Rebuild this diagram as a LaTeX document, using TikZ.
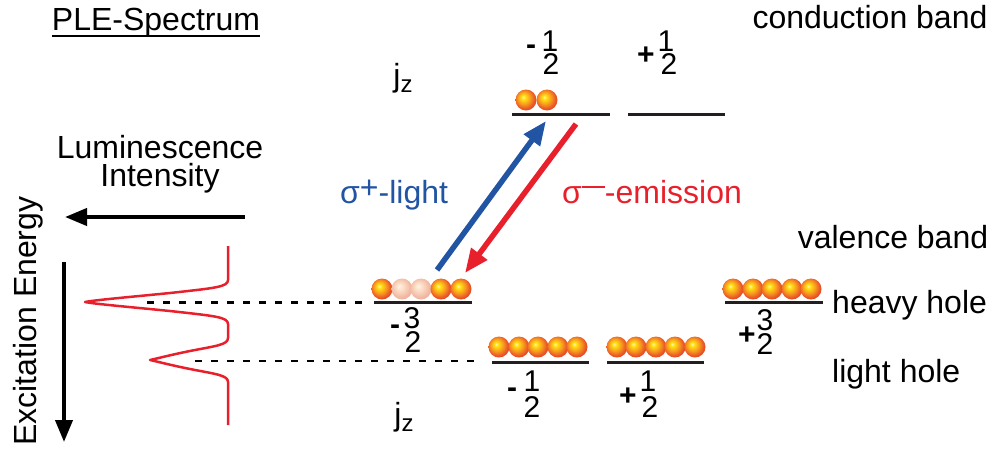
\documentclass[tikz,border=0pt]{standalone}
\usepackage{fontspec}
\setmainfont{Liberation Sans}
\usetikzlibrary{arrows.meta}
\definecolor{levelgray}{RGB}{35,31,32}
\definecolor{lblue}{RGB}{34,84,164}
\definecolor{lred}{RGB}{232,32,44}
\definecolor{peachA}{RGB}{255,244,228}
\definecolor{peachB}{RGB}{250,214,190}
\definecolor{peachC}{RGB}{240,180,160}
\definecolor{orbY}{RGB}{255,225,20}
\definecolor{orbO}{RGB}{248,155,30}
\definecolor{orbR}{RGB}{232,80,40}
\pgfdeclareradialshading{orb}{\pgfpoint{-7bp}{7bp}}{color(0bp)=(orbY!40!white); color(5bp)=(orbY); color(15bp)=(orbO); color(25bp)=(orbR); color(31bp)=(orbR); color(50bp)=(orbR)}
\pgfdeclareradialshading{paleorb}{\pgfpoint{-7bp}{7bp}}{color(0bp)=(peachA); color(12bp)=(peachB); color(25bp)=(peachC); color(31bp)=(peachC); color(50bp)=(peachC)}
\tikzset{
  lab/.style={font=\fontsize{32}{38}\selectfont, inner sep=0pt},
  dig/.style={font=\fontsize{30}{36}\selectfont, inner sep=0pt, text height=21.5pt, text depth=0pt},
  sgn/.style={font=\fontsize{30}{36}\selectfont\bfseries, inner sep=0pt},
  level/.style={draw=levelgray, line width=3pt},
  ball/.style={circle, minimum size=21pt, inner sep=0pt, shading=orb},
  paleball/.style={circle, minimum size=21pt, inner sep=0pt, shading=paleorb},
  guide/.style={draw=black, line width=2.5pt, dash pattern=on 7pt off 9pt},
  bigarrow/.style={line width=4pt, -{Triangle[length=22pt, width=17pt]}},
  trans/.style={line width=5.5pt, -{Triangle[length=24pt, width=19pt]}},
}
\begin{document}
\begin{tikzpicture}[x=1pt, y=-1pt]
\useasboundingbox (0,0) rectangle (994,451);

% titles
\node[lab, anchor=base] (ple) at (156,30) {PLE-Spectrum};
\draw[line width=2pt] ([yshift=-6pt]ple.base west) -- ([yshift=-6pt]ple.base east);
\node[lab, anchor=base] (cb) at (870,28) {conduction band};
\node[lab, anchor=base] (vb) at (893,248) {valence band};
\node[lab, anchor=base west] (hh) at (832,313) {heavy hole};
\node[lab, anchor=base west] (lh) at (832,382) {light hole};

% jz labels
\node[lab, anchor=base] (jz1) at (403,86) {j\raisebox{-6pt}{\fontsize{24}{24}\selectfont z}};
\node[lab, anchor=base] (jz2) at (404,425) {j\raisebox{-6pt}{\fontsize{24}{24}\selectfont z}};

% conduction band levels
\draw[level] (512,114) -- (610,114);
\draw[level] (628,114) -- (725,114);
\node[ball] (ce1) at (526,100) {};
\node[ball] (ce2) at (547,100) {};

% conduction band jz values
\node[sgn] (cms) at (531,50) {-};
\node[dig] (cmn) at (550,41) {1};
\node[dig] (cmd) at (551,64) {2};
\node[sgn] (cps) at (646,56) {+};
\node[dig] (cpn) at (666,41) {1};
\node[dig] (cpd) at (669,64) {2};

% heavy hole left (-3/2)
\draw[level] (374,302) -- (472,302);
\node[ball] (hl1) at (382,289) {};
\node[paleball] (hl2) at (402,289) {};
\node[paleball] (hl3) at (421,289) {};
\node[ball] (hl4) at (441,289) {};
\node[ball] (hl5) at (461,289) {};
\node[sgn] (hls) at (395,330) {-};
\node[dig] (hln) at (412,318) {3};
\node[dig] (hld) at (413,342) {2};

% heavy hole right (+3/2)
\draw[level] (725,302) -- (823,302);
\foreach \i/\x in {1/733,2/753,3/772,4/792,5/811}
  \node[ball] (hr\i) at (\x,289) {};
\node[sgn] (hrs) at (747,336) {+};
\node[dig] (hrn) at (765,320) {3};
\node[dig] (hrd) at (765,344) {2};

% light hole left (-1/2)
\draw[level] (492,362) -- (589,362);
\foreach \i/\x in {1/499,2/519,3/538,4/558,5/577}
  \node[ball] (ll\i) at (\x,347) {};
\node[sgn] (lls) at (512,393) {-};
\node[dig] (lln) at (532,381) {1};
\node[dig] (lld) at (532,407) {2};

% light hole right (+1/2)
\draw[level] (607,362) -- (704,362);
\foreach \i/\x in {1/617,2/636,3/656,4/675,5/695}
  \node[ball] (lr\i) at (\x,347) {};
\node[sgn] (lrs) at (628,397) {+};
\node[dig] (lrn) at (648,381) {1};
\node[dig] (lrd) at (650,407) {2};

% transitions
\coordinate (bs) at (437,270);
\coordinate (be) at (546,121);
\coordinate (rs) at (576,124);
\coordinate (re) at (465,273);
\draw[trans, draw=lblue, fill=lblue] (bs) -- (be);
\draw[trans, draw=lred, fill=lred] (rs) -- (re);
\node[lab, anchor=base west, text=lblue] (sp) at (340,203) {σ\raisebox{5pt}{+}-light};
\node[lab, anchor=base west, text=lred] (sm) at (562,203) {σ\raisebox{5pt}{\rule[0.3em]{0.72em}{2.2pt}}-emission};

% left axes
\node[lab, anchor=base] (lum) at (160,158) {Luminescence};
\node[lab, anchor=base] (int) at (160,186) {Intensity};
\coordinate (ha) at (245,217);
\coordinate (hb) at (65,217);
\draw[bigarrow] (ha) -- (hb);
\coordinate (va) at (64,262);
\coordinate (vb2) at (64,442);
\draw[bigarrow] (va) -- (vb2);
\node[lab, anchor=base, rotate=90] (exc) at (36,321) {Excitation Energy};

% spectrum
\draw[lred, line width=2.5pt, line join=round]
  (228,246) -- (228,280)
  .. controls (228,287) and (215,288) .. (170,293)
  .. controls (130,297) and (95,300) .. (85,302)
  .. controls (95,304) and (130,307) .. (170,311)
  .. controls (215,316) and (228,317) .. (228,324)
  -- (228,338)
  .. controls (228,345) and (215,346) .. (190,351)
  .. controls (170,355) and (155,359) .. (150,360)
  .. controls (155,361) and (170,365) .. (190,369)
  .. controls (215,374) and (228,375) .. (228,382)
  -- (228,425);

% guide lines
\coordinate (g1a) at (147,302.5);
\coordinate (g1b) at (370,302.5);
\coordinate (g2a) at (195,361);
\coordinate (g2b) at (482,361);
\draw[guide] (g1a) -- (g1b);
\draw[guide] (g2a) -- (g2b);
\end{tikzpicture}
\end{document}
